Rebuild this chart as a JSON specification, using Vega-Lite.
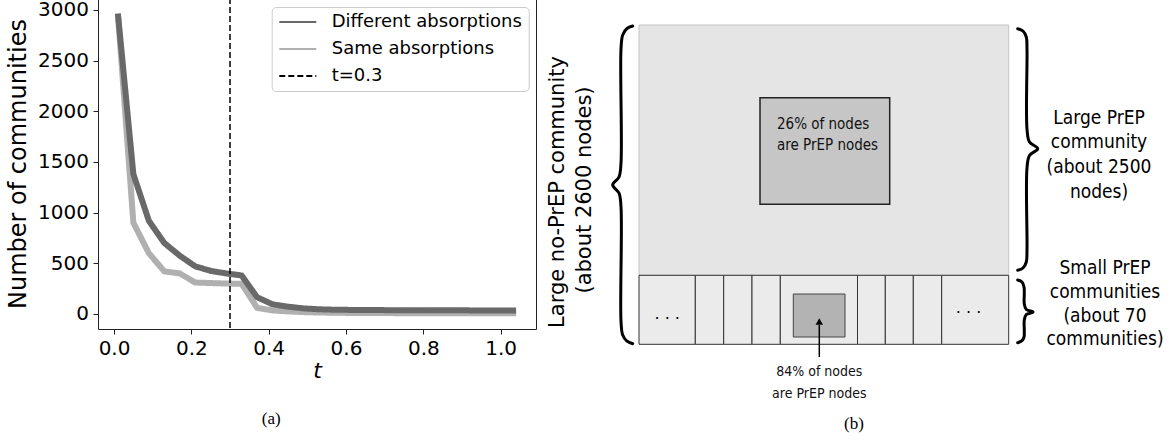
{
  "$schema": "https://vega.github.io/schema/vega-lite/v6.json",
  "autosize": {"type": "pad"},
  "padding": {"left": 6, "top": -4, "right": 0, "bottom": 0},
  "background": "white",
  "bounds": "flush",
  "spacing": 5,
  "config": {
    "font": "DejaVu Sans",
    "axis": {"labelFont": "DejaVu Sans", "titleFont": "DejaVu Sans", "labelColor": "black", "titleColor": "black", "tickColor": "#222", "domain": false, "grid": false, "titleFontWeight": "normal"}
  },
  "datasets": {
    "curves": [
      {"t": 0.01, "n": 2960, "series": "Same absorptions"},
      {"t": 0.05, "n": 900, "series": "Same absorptions"},
      {"t": 0.09, "n": 600, "series": "Same absorptions"},
      {"t": 0.13, "n": 420, "series": "Same absorptions"},
      {"t": 0.17, "n": 400, "series": "Same absorptions"},
      {"t": 0.21, "n": 310, "series": "Same absorptions"},
      {"t": 0.25, "n": 305, "series": "Same absorptions"},
      {"t": 0.29, "n": 300, "series": "Same absorptions"},
      {"t": 0.33, "n": 298, "series": "Same absorptions"},
      {"t": 0.37, "n": 60, "series": "Same absorptions"},
      {"t": 0.41, "n": 35, "series": "Same absorptions"},
      {"t": 0.45, "n": 25, "series": "Same absorptions"},
      {"t": 0.49, "n": 18, "series": "Same absorptions"},
      {"t": 0.53, "n": 14, "series": "Same absorptions"},
      {"t": 0.57, "n": 12, "series": "Same absorptions"},
      {"t": 0.61, "n": 10, "series": "Same absorptions"},
      {"t": 0.65, "n": 9, "series": "Same absorptions"},
      {"t": 0.69, "n": 9, "series": "Same absorptions"},
      {"t": 0.73, "n": 8, "series": "Same absorptions"},
      {"t": 0.77, "n": 8, "series": "Same absorptions"},
      {"t": 0.81, "n": 8, "series": "Same absorptions"},
      {"t": 0.85, "n": 8, "series": "Same absorptions"},
      {"t": 0.89, "n": 8, "series": "Same absorptions"},
      {"t": 0.93, "n": 8, "series": "Same absorptions"},
      {"t": 0.97, "n": 8, "series": "Same absorptions"},
      {"t": 1.01, "n": 8, "series": "Same absorptions"},
      {"t": 1.04, "n": 8, "series": "Same absorptions"},
      {"t": 0.01, "n": 2965, "series": "Different absorptions"},
      {"t": 0.05, "n": 1380, "series": "Different absorptions"},
      {"t": 0.09, "n": 920, "series": "Different absorptions"},
      {"t": 0.13, "n": 700, "series": "Different absorptions"},
      {"t": 0.17, "n": 575, "series": "Different absorptions"},
      {"t": 0.21, "n": 470, "series": "Different absorptions"},
      {"t": 0.25, "n": 425, "series": "Different absorptions"},
      {"t": 0.29, "n": 400, "series": "Different absorptions"},
      {"t": 0.33, "n": 380, "series": "Different absorptions"},
      {"t": 0.37, "n": 165, "series": "Different absorptions"},
      {"t": 0.41, "n": 95, "series": "Different absorptions"},
      {"t": 0.45, "n": 72, "series": "Different absorptions"},
      {"t": 0.49, "n": 55, "series": "Different absorptions"},
      {"t": 0.53, "n": 46, "series": "Different absorptions"},
      {"t": 0.57, "n": 42, "series": "Different absorptions"},
      {"t": 0.61, "n": 40, "series": "Different absorptions"},
      {"t": 0.65, "n": 38, "series": "Different absorptions"},
      {"t": 0.69, "n": 38, "series": "Different absorptions"},
      {"t": 0.73, "n": 37, "series": "Different absorptions"},
      {"t": 0.77, "n": 37, "series": "Different absorptions"},
      {"t": 0.81, "n": 36, "series": "Different absorptions"},
      {"t": 0.85, "n": 36, "series": "Different absorptions"},
      {"t": 0.89, "n": 36, "series": "Different absorptions"},
      {"t": 0.93, "n": 35, "series": "Different absorptions"},
      {"t": 0.97, "n": 35, "series": "Different absorptions"},
      {"t": 1.01, "n": 35, "series": "Different absorptions"},
      {"t": 1.04, "n": 35, "series": "Different absorptions"}
    ],
    "marker": [{"t": 0.3, "series": "t=0.3"}],
    "boxes": [
      {"kind": "big", "x": 0, "x2": 369.7, "y": 0, "y2": 250.3},
      {"kind": "inner", "x": 121, "x2": 250.7, "y": 72.7, "y2": 179.3},
      {"kind": "small", "x": 0, "x2": 56.3, "y": 250.3, "y2": 319.3},
      {"kind": "small", "x": 56.3, "x2": 84.7, "y": 250.3, "y2": 319.3},
      {"kind": "small", "x": 84.7, "x2": 113, "y": 250.3, "y2": 319.3},
      {"kind": "small", "x": 113, "x2": 141.3, "y": 250.3, "y2": 319.3},
      {"kind": "small", "x": 141.3, "x2": 218.5, "y": 250.3, "y2": 319.3},
      {"kind": "small", "x": 218.5, "x2": 246.3, "y": 250.3, "y2": 319.3},
      {"kind": "small", "x": 246.3, "x2": 274.3, "y": 250.3, "y2": 319.3},
      {"kind": "small", "x": 274.3, "x2": 302.7, "y": 250.3, "y2": 319.3},
      {"kind": "small", "x": 302.7, "x2": 369.7, "y": 250.3, "y2": 319.3},
      {"kind": "smallinner", "x": 154.3, "x2": 206, "y": 269, "y2": 312}
    ],
    "braces": [
      {"id": "left", "i": 0, "x": -6.3, "y": 1},
      {"id": "left", "i": 1, "x": -12, "y": 3.5},
      {"id": "left", "i": 2, "x": -16.3, "y": 10},
      {"id": "left", "i": 3, "x": -18, "y": 24},
      {"id": "left", "i": 4, "x": -18, "y": 138},
      {"id": "left", "i": 5, "x": -20, "y": 152},
      {"id": "left", "i": 6, "x": -26.3, "y": 160},
      {"id": "left", "i": 7, "x": -20, "y": 168},
      {"id": "left", "i": 8, "x": -18, "y": 182},
      {"id": "left", "i": 9, "x": -18, "y": 296},
      {"id": "left", "i": 10, "x": -16.3, "y": 310},
      {"id": "left", "i": 11, "x": -12, "y": 316.2},
      {"id": "left", "i": 12, "x": -6.3, "y": 318.7},
      {"id": "big", "i": 0, "x": 378.7, "y": 3.7},
      {"id": "big", "i": 1, "x": 384, "y": 6},
      {"id": "big", "i": 2, "x": 387.3, "y": 12},
      {"id": "big", "i": 3, "x": 388, "y": 24},
      {"id": "big", "i": 4, "x": 388, "y": 104},
      {"id": "big", "i": 5, "x": 390.5, "y": 117},
      {"id": "big", "i": 6, "x": 398.7, "y": 123.7},
      {"id": "big", "i": 7, "x": 390.5, "y": 130.5},
      {"id": "big", "i": 8, "x": 388, "y": 143},
      {"id": "big", "i": 9, "x": 388, "y": 225},
      {"id": "big", "i": 10, "x": 387.3, "y": 237},
      {"id": "big", "i": 11, "x": 384, "y": 243},
      {"id": "big", "i": 12, "x": 378.7, "y": 245.3},
      {"id": "small", "i": 0, "x": 378.7, "y": 255},
      {"id": "small", "i": 1, "x": 383, "y": 257},
      {"id": "small", "i": 2, "x": 385, "y": 262},
      {"id": "small", "i": 3, "x": 385.3, "y": 268},
      {"id": "small", "i": 4, "x": 385.3, "y": 279},
      {"id": "small", "i": 5, "x": 387.3, "y": 284.5},
      {"id": "small", "i": 6, "x": 394, "y": 287},
      {"id": "small", "i": 7, "x": 387.3, "y": 289.5},
      {"id": "small", "i": 8, "x": 385.3, "y": 295},
      {"id": "small", "i": 9, "x": 385.3, "y": 306},
      {"id": "small", "i": 10, "x": 385, "y": 312},
      {"id": "small", "i": 11, "x": 383, "y": 315.7},
      {"id": "small", "i": 12, "x": 378.7, "y": 317.7}
    ],
    "arrow": [{"x": 180.3, "y": 332, "y2": 300, "head": 296.5}],
    "labels": [
      {"style": "box", "text": "26% of nodes", "x": 138, "y": 99},
      {"style": "box", "text": "are PrEP nodes", "x": 138, "y": 120},
      {"style": "below", "text": "84% of nodes", "x": 180.3, "y": 347},
      {"style": "below", "text": "are PrEP nodes", "x": 180.3, "y": 368.7},
      {"style": "dots", "text": ". . .", "x": 28.2, "y": 294},
      {"style": "dots", "text": ". . .", "x": 329.5, "y": 287.5},
      {"style": "vert", "text": "Large no-PrEP community", "x": -81, "y": 167},
      {"style": "vert", "text": "(about 2600 nodes)", "x": -54, "y": 165},
      {"style": "side", "text": "Large PrEP", "x": 460, "y": 92.5},
      {"style": "side", "text": "community", "x": 460, "y": 117},
      {"style": "side", "text": "(about 2500", "x": 460, "y": 142},
      {"style": "side", "text": "nodes)", "x": 460, "y": 167},
      {"style": "side", "text": "Small PrEP", "x": 466, "y": 243},
      {"style": "side", "text": "communities", "x": 466, "y": 267},
      {"style": "side", "text": "(about 70", "x": 466, "y": 290.5},
      {"style": "side", "text": "communities)", "x": 466, "y": 314},
      {"style": "caption", "text": "(b)", "x": 215, "y": 398.7}
    ]
  },
  "hconcat": [
    {
      "width": 438,
      "height": 331,
      "view": {"stroke": "#222", "strokeWidth": 1},
      "title": {"text": "(a)", "orient": "bottom", "anchor": "middle", "frame": "bounds", "font": "Liberation Serif", "fontSize": 17, "fontWeight": "normal", "color": "black", "offset": 30},
      "layer": [
        {
          "data": {"name": "curves"},
          "mark": {"type": "line", "strokeWidth": 6, "clip": true},
          "encoding": {
            "x": {"field": "t", "type": "quantitative", "scale": {"domain": [-0.0415, 1.0915], "nice": false, "zero": false},
              "axis": {"values": [0, 0.2, 0.4, 0.6, 0.8, 1.0], "format": ".1f", "title": "t", "titleFontStyle": "italic", "titleFontSize": 22, "labelFontSize": 20, "tickSize": 5, "labelPadding": 4, "titlePadding": 2}},
            "y": {"field": "n", "type": "quantitative", "scale": {"domain": [-148.5, 3118], "nice": false, "zero": false},
              "axis": {"values": [0, 500, 1000, 1500, 2000, 2500, 3000], "format": "d", "title": "Number of communities", "titleFontSize": 24, "labelFontSize": 20, "tickSize": 5, "labelPadding": 4.5, "titlePadding": 7}},
            "color": {"field": "series", "type": "nominal",
              "scale": {"domain": ["Different absorptions", "Same absorptions", "t=0.3"], "range": ["#696969", "#b0b0b0", "#000000"]},
              "legend": {"title": null, "orient": "none", "legendX": 173.7, "legendY": 9, "symbolType": "M-1,0H4", "symbolSize": 219, "symbolStrokeWidth": 2, "labelFontSize": 18, "labelFont": "DejaVu Sans", "labelColor": "black", "labelLimit": 0, "labelOffset": 36, "padding": 6, "rowPadding": 9, "strokeColor": "#cccccc", "fillColor": "white", "cornerRadius": 4}},
            "strokeDash": {"field": "series", "type": "nominal",
              "scale": {"domain": ["Different absorptions", "Same absorptions", "t=0.3"], "range": [[1, 0], [1, 0], [6, 3]]},
              "legend": {"title": null, "orient": "none", "legendX": 173.7, "legendY": 9, "symbolType": "M-1,0H4", "symbolSize": 219, "symbolStrokeWidth": 2, "labelFontSize": 18, "labelFont": "DejaVu Sans", "labelColor": "black", "labelLimit": 0, "labelOffset": 36, "padding": 6, "rowPadding": 9, "strokeColor": "#cccccc", "fillColor": "white", "cornerRadius": 4}}
          }
        },
        {
          "data": {"name": "marker"},
          "mark": {"type": "rule", "strokeWidth": 1.5},
          "encoding": {
            "x": {"field": "t", "type": "quantitative"},
            "color": {"field": "series", "type": "nominal"},
            "strokeDash": {"field": "series", "type": "nominal"}
          }
        }
      ]
    },
    {
      "width": 634,
      "height": 445,
      "view": {"stroke": null},
      "layer": [
        {
          "data": {"name": "boxes"},
          "transform": [{"filter": "datum.kind === 'big'"}],
          "mark": {"type": "rect", "fill": "#e5e5e5", "stroke": "#c4c4c4", "strokeWidth": 1},
          "encoding": {
            "x": {"field": "x", "type": "quantitative", "scale": {"domain": [-98, 536], "nice": false, "zero": false}, "axis": null},
            "x2": {"field": "x2"},
            "y": {"field": "y", "type": "quantitative", "scale": {"domain": [-27, 418], "nice": false, "zero": false, "reverse": true}, "axis": null},
            "y2": {"field": "y2"}
          }
        },
        {
          "data": {"name": "boxes"},
          "transform": [{"filter": "datum.kind === 'small'"}],
          "mark": {"type": "rect", "fill": "#ebebeb", "stroke": "#333333", "strokeWidth": 1},
          "encoding": {
            "x": {"field": "x", "type": "quantitative"},
            "x2": {"field": "x2"},
            "y": {"field": "y", "type": "quantitative"},
            "y2": {"field": "y2"}
          }
        },
        {
          "data": {"name": "boxes"},
          "transform": [{"filter": "datum.kind === 'inner'"}],
          "mark": {"type": "rect", "fill": "#c6c6c6", "stroke": "#222222", "strokeWidth": 1.5},
          "encoding": {
            "x": {"field": "x", "type": "quantitative"},
            "x2": {"field": "x2"},
            "y": {"field": "y", "type": "quantitative"},
            "y2": {"field": "y2"}
          }
        },
        {
          "data": {"name": "boxes"},
          "transform": [{"filter": "datum.kind === 'smallinner'"}],
          "mark": {"type": "rect", "fill": "#b3b3b3", "stroke": "#444444", "strokeWidth": 1},
          "encoding": {
            "x": {"field": "x", "type": "quantitative"},
            "x2": {"field": "x2"},
            "y": {"field": "y", "type": "quantitative"},
            "y2": {"field": "y2"}
          }
        },
        {
          "data": {"name": "braces"},
          "mark": {"type": "line", "interpolate": "catmull-rom", "stroke": "black", "strokeWidth": 3, "strokeCap": "round"},
          "encoding": {
            "x": {"field": "x", "type": "quantitative"},
            "y": {"field": "y", "type": "quantitative"},
            "detail": {"field": "id"},
            "order": {"field": "i", "type": "quantitative"}
          }
        },
        {
          "data": {"name": "arrow"},
          "mark": {"type": "rule", "stroke": "black", "strokeWidth": 1.5},
          "encoding": {
            "x": {"field": "x", "type": "quantitative"},
            "y": {"field": "y", "type": "quantitative"},
            "y2": {"field": "y2"}
          }
        },
        {
          "data": {"name": "arrow"},
          "mark": {"type": "point", "shape": "triangle-up", "filled": true, "fill": "black", "stroke": null, "size": 55, "opacity": 1},
          "encoding": {
            "x": {"field": "x", "type": "quantitative"},
            "y": {"field": "head", "type": "quantitative"}
          }
        },
        {
          "data": {"name": "labels"},
          "transform": [{"filter": "datum.style === 'box'"}],
          "mark": {"type": "text", "align": "left", "baseline": "middle", "font": "DejaVu Sans Condensed", "fontSize": 15, "fill": "#111"},
          "encoding": {
            "x": {"field": "x", "type": "quantitative"},
            "y": {"field": "y", "type": "quantitative"},
            "text": {"field": "text"}
          }
        },
        {
          "data": {"name": "labels"},
          "transform": [{"filter": "datum.style === 'below'"}],
          "mark": {"type": "text", "align": "center", "baseline": "middle", "font": "DejaVu Sans Condensed", "fontSize": 14, "fill": "#111"},
          "encoding": {
            "x": {"field": "x", "type": "quantitative"},
            "y": {"field": "y", "type": "quantitative"},
            "text": {"field": "text"}
          }
        },
        {
          "data": {"name": "labels"},
          "transform": [{"filter": "datum.style === 'dots'"}],
          "mark": {"type": "text", "align": "center", "baseline": "alphabetic", "font": "DejaVu Sans", "fontSize": 16, "fill": "black"},
          "encoding": {
            "x": {"field": "x", "type": "quantitative"},
            "y": {"field": "y", "type": "quantitative"},
            "text": {"field": "text"}
          }
        },
        {
          "data": {"name": "labels"},
          "transform": [{"filter": "datum.style === 'vert'"}],
          "mark": {"type": "text", "align": "center", "baseline": "middle", "angle": 270, "font": "DejaVu Sans", "fontSize": 21, "fill": "black"},
          "encoding": {
            "x": {"field": "x", "type": "quantitative"},
            "y": {"field": "y", "type": "quantitative"},
            "text": {"field": "text"}
          }
        },
        {
          "data": {"name": "labels"},
          "transform": [{"filter": "datum.style === 'side'"}],
          "mark": {"type": "text", "align": "center", "baseline": "middle", "font": "DejaVu Sans Condensed", "fontSize": 19, "fill": "black"},
          "encoding": {
            "x": {"field": "x", "type": "quantitative"},
            "y": {"field": "y", "type": "quantitative"},
            "text": {"field": "text"}
          }
        },
        {
          "data": {"name": "labels"},
          "transform": [{"filter": "datum.style === 'caption'"}],
          "mark": {"type": "text", "align": "center", "baseline": "middle", "font": "Liberation Serif", "fontSize": 17, "fill": "black"},
          "encoding": {
            "x": {"field": "x", "type": "quantitative"},
            "y": {"field": "y", "type": "quantitative"},
            "text": {"field": "text"}
          }
        }
      ]
    }
  ]
}
